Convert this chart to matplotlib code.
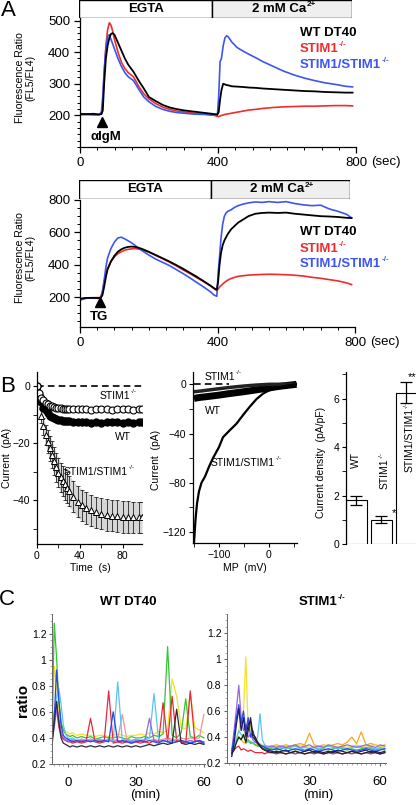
import matplotlib
matplotlib.use('Agg')
import matplotlib.pyplot as plt
from matplotlib.patches import Rectangle
from matplotlib.ticker import MultipleLocator

plt.rcParams['font.family'] = ['Liberation Sans', 'DejaVu Sans']
plt.rcParams['axes.linewidth'] = 0.9

# ---------------- data ----------------
# panel A (top): anti-IgM
tA1 = [0, 20, 40, 55, 62, 66, 70, 75, 80, 85, 90, 95, 100, 110, 120, 130, 140, 155, 170, 185,
       200, 220, 240, 260, 280, 300, 330, 360, 390, 398, 402, 406, 410, 415, 420, 425, 430, 440,
       455, 470, 490, 510, 530, 560, 590, 620, 650, 680, 710, 740, 770, 790]
wtA1 = [205, 204, 205, 203, 204, 215, 300, 380, 420, 445, 458, 460, 455, 430, 405, 380, 360, 338, 310, 285,
        258, 245, 233, 225, 220, 216, 212, 208, 204, 203, 210, 250, 280, 300, 298, 296, 295, 292,
        291, 290, 288, 287, 285, 283, 281, 279, 277, 276, 274, 273, 272, 272]
koA1 = [203, 203, 202, 202, 205, 240, 330, 420, 470, 493, 485, 465, 440, 400, 368, 348, 335, 322, 292, 268,
        252, 237, 226, 219, 214, 211, 207, 204, 200, 197, 196, 198, 200, 201, 203, 204, 205, 207,
        210, 213, 217, 219, 222, 225, 227, 228, 229, 229, 230, 231, 231, 230]
dkA1 = [202, 203, 202, 202, 210, 260, 340, 410, 450, 455, 440, 425, 410, 380, 355, 335, 322, 310, 283, 258,
        243, 228, 219, 213, 209, 207, 204, 203, 201, 200, 260, 370, 380, 420, 445, 452, 448, 432,
        415, 405, 393, 382, 370, 355, 340, 328, 318, 310, 303, 298, 292, 290]

# panel A (bottom): thapsigargin
tA2 = [0, 10, 20, 40, 55, 60, 65, 70, 75, 80, 90, 100, 110, 120, 130, 140, 150, 160, 170, 180,
       200, 220, 240, 260, 280, 300, 320, 340, 360, 380, 390, 398, 402, 406, 410, 415, 420, 425,
       430, 440, 450, 460, 475, 490, 510, 530, 550, 575, 600, 625, 650, 675, 700, 725, 750, 775, 790]
dkA2 = [180, 188, 193, 193, 192, 195, 230, 300, 380, 440, 500, 540, 565, 570, 560, 548, 535, 520, 502, 488,
        460, 435, 415, 395, 370, 345, 318, 290, 262, 232, 212, 205, 350, 450, 560, 650, 700, 720,
        730, 740, 755, 765, 775, 782, 788, 785, 790, 785, 790, 778, 770, 765, 768, 745, 730, 712, 690]
wtA2 = [190, 193, 195, 195, 194, 195, 210, 260, 320, 370, 420, 455, 480, 495, 505, 510, 512, 510, 505, 498,
        480, 460, 440, 420, 398, 375, 350, 325, 298, 270, 255, 245, 300, 400, 470, 520, 550, 570,
        590, 620, 640, 660, 680, 700, 715, 720, 722, 720, 722, 715, 710, 705, 700, 698, 695, 690, 688]
koA2 = [185, 190, 195, 196, 197, 200, 230, 290, 340, 375, 420, 448, 468, 480, 490, 495, 498, 500, 497, 492,
        478, 458, 438, 416, 393, 368, 345, 320, 295, 268, 252, 240, 250, 262, 270, 280, 290, 298,
        305, 315, 322, 328, 332, 336, 338, 340, 341, 340, 338, 335, 330, 322, 316, 308, 300, 288, 277]

# panel B left: current vs time
tB = [0, 2, 4, 6, 8, 10, 12, 14, 16, 18, 20, 22, 24, 26, 28, 30, 34, 38, 42, 46, 50, 55, 60, 65,
      70, 75, 80, 85, 90, 95, 98]
wtB = [0, -3, -5.5, -7.5, -8.5, -9.5, -10.3, -10.8, -11.2, -11.5, -11.8, -12, -12.1, -12.2, -12.3,
       -12.3, -12.5, -12.5, -12.6, -12.6, -12.8, -12.7, -12.8, -12.7, -12.6, -12.7, -12.8, -12.7,
       -12.8, -12.7, -12.7]
koB = [0, -2.5, -4, -5, -5.8, -6.3, -6.8, -7, -7.3, -7.5, -7.7, -7.8, -7.9, -8, -8, -8, -8.1, -8.1,
       -8, -8.1, -8.2, -8.1, -8, -8.1, -8.2, -8.1, -8, -8.1, -8.2, -8.1, -8.1]
dkB = [0, -4, -10.5, -14, -17, -19.5, -21.8, -24, -26.3, -28.5, -30.3, -32, -33.3, -34.5, -35.6,
       -36.8, -38.8, -40.5, -41.8, -42.8, -43.6, -44.3, -44.8, -45.2, -45.5, -45.6, -45.8, -45.9,
       -46, -46, -46]
dkB_err = [0, 1.5, 2.5, 3, 3.5, 4, 4.5, 4.8, 5, 5, 5.2, 5.2, 5.3, 5.3, 5.4, 5.4, 5.5, 5.5, 5.5,
           5.5, 5.5, 5.5, 5.5, 5.5, 5.5, 5.5, 5.6, 5.5, 5.5, 5.5, 5.5]

# panel B middle: I-V
mvIV = [-150, -147, -144, -140, -135, -128, -120, -112, -100, -92, -80, -65, -50, -38, -25, -12,
        0, 15, 30, 45, 55]
dkIV = [-129, -110, -97, -87, -80, -75, -67, -60, -51, -43, -38, -32, -24, -18, -12, -7.6, -5, -3,
        -1.5, -0.5, 0]
wtIV = [-11.5, -11.3, -11, -10.8, -10.5, -10.2, -9.8, -9.4, -8.8, -8.3, -7.6, -6.8, -6, -5.3, -4.5,
        -3.7, -3, -2, -1.2, -0.5, 0]
koIV = [-6, -5.9, -5.8, -5.6, -5.4, -5, -4.6, -4.2, -3.6, -3.2, -2.6, -2, -1.4, -1, -0.6, -0.3, 0,
        0, 0, 0, 0]

# panel B right: current density
bar_vals = [1.8, 1.0, 6.25]
bar_err = [0.18, 0.15, 0.45]

# panel C left: WT DT40 single-cell ratio traces
tC1 = [-7, -6, -5, -4, -3, -2, -1, 0, 1, 2, 4, 6, 8, 10, 12, 14, 16, 18, 20, 22, 24, 26, 28, 30,
       32, 34, 36, 38, 40, 42, 44, 46, 48, 50, 52, 54, 56, 58, 60]
c1_yellow = [0.50, 0.95, 0.80, 0.62, 0.50, 0.47, 0.45, 0.44, 0.43, 0.44, 0.42, 0.43, 0.42, 0.42, 0.41,
             0.42, 0.42, 0.41, 0.42, 0.43, 0.42, 0.41, 0.42, 0.42, 0.43, 0.42, 0.44, 0.43, 0.45, 0.44,
             0.46, 0.85, 0.72, 0.48, 0.47, 0.74, 0.48, 0.46, 0.44]
c1_green = [0.46, 1.28, 1.02, 0.68, 0.52, 0.46, 0.43, 0.42, 0.41, 0.42, 0.40, 0.41, 0.40, 0.41, 0.39,
            0.40, 0.41, 0.40, 0.40, 0.41, 0.40, 0.39, 0.41, 0.40, 0.40, 0.41, 0.40, 0.42, 0.41, 0.43,
            1.10, 0.42, 0.40, 0.44, 0.70, 0.41, 0.40, 0.42, 0.40]
c1_pink = [0.40, 0.52, 0.62, 0.48, 0.42, 0.40, 0.39, 0.39, 0.38, 0.39, 0.38, 0.39, 0.38, 0.39, 0.38,
           0.39, 0.38, 0.39, 0.38, 0.39, 0.58, 0.39, 0.38, 0.39, 0.38, 0.39, 0.38, 0.39, 0.38, 0.39,
           0.40, 0.39, 0.38, 0.40, 0.39, 0.40, 0.39, 0.40, 0.58]
c1_red = [0.38, 0.60, 0.68, 0.50, 0.42, 0.39, 0.38, 0.37, 0.37, 0.36, 0.37, 0.36, 0.37, 0.55, 0.37,
          0.36, 0.37, 0.76, 0.36, 0.37, 0.36, 0.37, 0.36, 0.37, 0.36, 0.37, 0.36, 0.38, 0.37, 0.67,
          0.37, 0.72, 0.38, 0.37, 0.36, 0.76, 0.38, 0.37, 0.36]
c1_lblue = [0.42, 0.58, 0.72, 0.78, 0.66, 0.50, 0.43, 0.40, 0.39, 0.40, 0.38, 0.39, 0.38, 0.39, 0.38,
            0.39, 0.38, 0.39, 0.38, 0.83, 0.38, 0.39, 0.38, 0.39, 0.38, 0.39, 0.40, 0.74, 0.39, 0.38,
            0.39, 0.38, 0.39, 0.38, 0.37, 0.38, 0.37, 0.38, 0.37]
c1_purple = [0.38, 0.48, 0.62, 0.55, 0.45, 0.40, 0.38, 0.38, 0.37, 0.38, 0.37, 0.38, 0.37, 0.38, 0.37,
             0.38, 0.37, 0.38, 0.37, 0.38, 0.37, 0.38, 0.37, 0.38, 0.37, 0.38, 0.55, 0.38, 0.37, 0.38,
             0.37, 0.38, 0.37, 0.38, 0.37, 0.38, 0.37, 0.38, 0.37]
c1_blue = [0.36, 0.55, 0.92, 0.70, 0.50, 0.42, 0.40, 0.39, 0.38, 0.37, 0.38, 0.37, 0.38, 0.37, 0.38,
           0.37, 0.38, 0.37, 0.60, 0.37, 0.38, 0.37, 0.36, 0.37, 0.38, 0.37, 0.38, 0.37, 0.36, 0.38,
           0.37, 0.36, 0.37, 0.38, 0.37, 0.36, 0.37, 0.38, 0.36]
c1_navy = [0.34, 0.52, 0.68, 0.52, 0.40, 0.36, 0.35, 0.34, 0.33, 0.34, 0.33, 0.34, 0.33, 0.34, 0.33,
           0.34, 0.33, 0.34, 0.33, 0.34, 0.33, 0.34, 0.33, 0.34, 0.33, 0.34, 0.35, 0.34, 0.35, 0.36,
           0.35, 0.36, 0.62, 0.36, 0.35, 0.36, 0.35, 0.36, 0.35]

# panel C right: STIM1-/- single-cell ratio traces
tC2 = [-3, -2, -1, 0, 1, 2, 3, 4, 5, 6, 7, 8, 9, 10, 11, 12, 14, 16, 18, 20, 22, 24, 26, 28, 30,
       32, 34, 36, 38, 40, 42, 44, 46, 48, 50, 52, 54, 56, 58, 60, 62]
c2_orange = [0.30, 0.33, 0.36, 0.40, 0.38, 0.36, 0.35, 0.37, 0.36, 0.35, 0.34, 0.34, 0.33, 0.33, 0.33,
             0.33, 0.33, 0.34, 0.33, 0.34, 0.33, 0.34, 0.35, 0.34, 0.43, 0.34, 0.33, 0.34, 0.33, 0.34,
             0.35, 0.34, 0.36, 0.40, 0.35, 0.44, 0.34, 0.35, 0.34, 0.33, 0.34]
c2_yellow = [0.30, 0.35, 0.40, 0.45, 0.55, 0.60, 1.02, 0.45, 0.50, 0.38, 0.40, 0.36, 0.35, 0.34, 0.33,
             0.33, 0.32, 0.33, 0.32, 0.33, 0.32, 0.33, 0.34, 0.33, 0.32, 0.33, 0.32, 0.33, 0.34, 0.33,
             0.32, 0.33, 0.32, 0.33, 0.34, 0.33, 0.32, 0.33, 0.34, 0.33, 0.32]
c2_red = [0.28, 0.30, 0.32, 0.33, 0.30, 0.31, 0.30, 0.29, 0.30, 0.29, 0.28, 0.28, 0.28, 0.28, 0.27,
          0.28, 0.28, 0.27, 0.28, 0.27, 0.28, 0.27, 0.28, 0.27, 0.28, 0.27, 0.28, 0.27, 0.28, 0.27,
          0.28, 0.27, 0.28, 0.27, 0.28, 0.27, 0.28, 0.27, 0.28, 0.27, 0.28]
c2_green = [0.29, 0.32, 0.36, 0.40, 0.38, 0.42, 0.36, 0.38, 0.35, 0.36, 0.34, 0.33, 0.33, 0.32, 0.31,
            0.31, 0.31, 0.30, 0.31, 0.32, 0.31, 0.30, 0.31, 0.30, 0.31, 0.32, 0.30, 0.31, 0.30, 0.31,
            0.32, 0.31, 0.30, 0.31, 0.30, 0.31, 0.32, 0.31, 0.30, 0.31, 0.30]
c2_lblue = [0.30, 0.33, 0.38, 0.45, 0.42, 0.40, 0.38, 0.36, 0.37, 0.35, 0.36, 0.40, 0.58, 0.38, 0.34,
            0.33, 0.32, 0.31, 0.32, 0.31, 0.32, 0.33, 0.31, 0.32, 0.31, 0.32, 0.31, 0.32, 0.33, 0.32,
            0.31, 0.32, 0.31, 0.32, 0.33, 0.32, 0.31, 0.32, 0.31, 0.32, 0.31]
c2_purple = [0.30, 0.45, 0.62, 0.80, 0.55, 0.45, 0.50, 0.40, 0.42, 0.38, 0.36, 0.35, 0.34, 0.33, 0.33,
             0.32, 0.33, 0.32, 0.33, 0.32, 0.33, 0.34, 0.32, 0.33, 0.34, 0.32, 0.33, 0.32, 0.34, 0.33,
             0.32, 0.33, 0.34, 0.33, 0.32, 0.33, 0.34, 0.33, 0.32, 0.34, 0.33]
c2_blue = [0.28, 0.40, 0.55, 0.65, 0.50, 0.60, 0.45, 0.55, 0.40, 0.45, 0.38, 0.36, 0.34, 0.33, 0.32,
           0.31, 0.30, 0.31, 0.30, 0.29, 0.30, 0.31, 0.30, 0.29, 0.31, 0.30, 0.29, 0.30, 0.31, 0.30,
           0.29, 0.30, 0.31, 0.30, 0.29, 0.30, 0.31, 0.30, 0.29, 0.30, 0.31]
c2_navy = [0.25, 0.35, 0.50, 0.62, 0.45, 0.55, 0.40, 0.50, 0.52, 0.40, 0.38, 0.35, 0.33, 0.31, 0.30,
           0.30, 0.29, 0.28, 0.29, 0.30, 0.28, 0.29, 0.28, 0.29, 0.30, 0.28, 0.29, 0.28, 0.29, 0.28,
           0.30, 0.29, 0.28, 0.29, 0.28, 0.29, 0.30, 0.28, 0.29, 0.28, 0.29]
c2_black = [0.27, 0.30, 0.36, 0.40, 0.38, 0.42, 0.36, 0.45, 0.55, 0.42, 0.40, 0.36, 0.33, 0.31, 0.30,
            0.29, 0.28, 0.29, 0.28, 0.27, 0.28, 0.29, 0.28, 0.27, 0.28, 0.29, 0.28, 0.27, 0.28, 0.29,
            0.28, 0.27, 0.28, 0.29, 0.28, 0.27, 0.28, 0.29, 0.28, 0.27, 0.28]

RED = '#f02c2c'
BLUE = '#3d55f2'

# ---------------- figure ----------------
W, H = 416, 805
fig = plt.figure(figsize=(W / 100, H / 100), dpi=100)


def box(x0, y0, x1, y1):
    return [x0 / W, 1 - y1 / H, (x1 - x0) / W, (y1 - y0) / H]


def clean(ax):
    ax.spines['top'].set_visible(False)
    ax.spines['right'].set_visible(False)
    ax.tick_params(which='both', direction='out')


def header(x0, y0, x1, y1, xmid):
    hx = fig.add_axes(box(x0, y0, x1, y1))
    hx.set_xlim(x0, x1)
    hx.set_ylim(0, 1)
    hx.axis('off')
    hx.add_patch(Rectangle((x0, 0), xmid - x0, 1, facecolor='white', edgecolor='k', lw=1.0))
    hx.add_patch(Rectangle((xmid, 0), x1 - xmid, 1, facecolor='#efefef', edgecolor='k', lw=1.0))


def panel_a(ax, t, wt, ko, dk, ylim, yticks, yminor):
    ax.plot(t, ko, color=RED, lw=1.2)
    ax.plot(t, dk, color=BLUE, lw=1.2)
    ax.plot(t, wt, color='k', lw=1.3)
    ax.set_xlim(0, 800)
    ax.set_ylim(*ylim)
    clean(ax)
    ax.set_xticks([0, 400, 800])
    ax.xaxis.set_minor_locator(MultipleLocator(50))
    ax.set_yticks(yticks)
    ax.yaxis.set_minor_locator(MultipleLocator(yminor))
    ax.tick_params(which='major', length=4, width=0.9, labelsize=9.5, pad=3)
    ax.tick_params(which='minor', length=2, width=0.7)


def panel_c(ax, t, traces, xlim):
    for ys, c in traces:
        ax.plot(t, ys, color=c, lw=0.9)
    ax.set_xlim(*xlim)
    ax.set_ylim(0.2, 1.35)
    clean(ax)
    for s in ['left', 'bottom']:
        ax.spines[s].set_color('#666666')
        ax.spines[s].set_linewidth(0.7)
    ax.set_xticks([0, 30, 60])
    ax.xaxis.set_minor_locator(MultipleLocator(2))
    ax.set_yticks([0.2, 0.4, 0.6, 0.8, 1.0, 1.2])
    ax.set_yticklabels(['0.2', '0.4', '0.6', '0.8', '1', '1.2'])
    ax.yaxis.set_minor_locator(MultipleLocator(0.05))
    ax.tick_params(axis='x', which='major', length=2, labelsize=9.5, pad=7, color='#666666')
    ax.tick_params(axis='y', which='major', length=2, labelsize=7.5, pad=2, color='#666666')
    ax.tick_params(which='minor', length=1.5, width=0.5, color='#888888')


# ---- A top ----
header(79, 0, 352, 18, 212)
axA1 = fig.add_axes(box(80, 18, 356, 147))
panel_a(axA1, tA1, wtA1, koA1, dkA1, (100, 508), [200, 300, 400, 500], 20)
axA1.plot([64], [178], marker='^', color='k', ms=7, clip_on=False)

# ---- A bottom ----
header(79, 180, 350, 199, 211)
axA2 = fig.add_axes(box(80, 200, 355, 327))
panel_a(axA2, tA2, wtA2, koA2, dkA2, (15, 800), [200, 400, 600, 800], 50)
axA2.plot([58], [172], marker='^', color='k', ms=7, clip_on=False)

# ---- B left ----
axB1 = fig.add_axes(box(37, 372, 142, 544))
axB1.axhline(0, color='k', ls='--', lw=1.2, dashes=(4, 2.5))
lo = [v - e for v, e in zip(dkB, dkB_err)]
hi = [v + e for v, e in zip(dkB, dkB_err)]
axB1.fill_between(tB, lo, hi, color='#d6d6d6', lw=0)
axB1.errorbar(tB, dkB, yerr=dkB_err, fmt='none', ecolor='k', elinewidth=0.5, capsize=1.5, capthick=0.5)
axB1.plot(tB, dkB, ls='none', marker='^', ms=4.5, mfc='white', mec='k', mew=0.7)
axB1.plot(tB, wtB, ls='none', marker='o', ms=5, mfc='k', mec='k')
axB1.plot(tB, koB, ls='none', marker='o', ms=5, mfc='white', mec='k', mew=0.8)
axB1.set_xlim(0, 98)
axB1.set_ylim(-55.4, 5)
clean(axB1)
axB1.set_xticks([0, 40, 80])
axB1.xaxis.set_minor_locator(MultipleLocator(20))
axB1.set_yticks([0, -20, -40])
axB1.yaxis.set_minor_locator(MultipleLocator(10))
axB1.tick_params(which='major', length=3, labelsize=7.5, pad=2)
axB1.tick_params(which='minor', length=3)

# ---- B middle ----
axB2 = fig.add_axes(box(193, 372, 297, 543))
axB2.plot([-150, -80], [0, 0], color='k', ls='--', lw=1.2, dashes=(4, 2.5))
axB2.plot(mvIV, wtIV, color='k', lw=5, solid_capstyle='butt')
axB2.plot(mvIV, koIV, color='#222222', lw=2.5)
axB2.plot(mvIV, dkIV, color='k', lw=1.6)
axB2.set_xlim(-152, 56)
axB2.set_ylim(-129, 10)
clean(axB2)
axB2.set_xticks([-100, 0])
axB2.xaxis.set_minor_locator(MultipleLocator(50))
axB2.set_yticks([0, -40, -80, -120])
axB2.yaxis.set_minor_locator(MultipleLocator(20))
axB2.tick_params(which='major', length=3, labelsize=7.5, pad=2)
axB2.tick_params(which='minor', length=3)

# ---- B right ----
axB3 = fig.add_axes(box(346, 372, 416, 544))
axB3.bar([0, 1, 2], bar_vals, width=0.84, color='white', edgecolor='k', lw=0.8)
axB3.errorbar([0, 1, 2], bar_vals, yerr=bar_err, fmt='none', ecolor='k', elinewidth=0.9,
              capsize=4, capthick=0.9)
axB3.set_xlim(-0.4, 2.4)
axB3.set_ylim(0, 7.1)
clean(axB3)
axB3.spines['bottom'].set_visible(False)
axB3.set_xticks([])
axB3.set_yticks([0, 2, 4, 6])
axB3.yaxis.set_minor_locator(MultipleLocator(1))
axB3.tick_params(which='major', length=3, labelsize=7.5, pad=2)
axB3.tick_params(which='minor', length=3)

# ---- C ----
axC1 = fig.add_axes(box(52, 614, 205, 764))
panel_c(axC1, tC1, [(c1_yellow, '#f2e22a'), (c1_green, '#34c434'), (c1_pink, '#f5909e'),
                    (c1_red, '#e8283a'), (c1_lblue, '#5cc4f5'), (c1_purple, '#9966dd'),
                    (c1_blue, '#2846e6'), (c1_navy, '#2b2b3b')], (-7, 60.5))
axC2 = fig.add_axes(box(227, 614, 386, 763))
panel_c(axC2, tC2, [(c2_orange, '#f5a623'), (c2_yellow, '#f2e22a'), (c2_red, '#e8283a'),
                    (c2_green, '#34c434'), (c2_lblue, '#5cc4f5'), (c2_purple, '#9966dd'),
                    (c2_blue, '#2846e6'), (c2_navy, '#1c1c66'), (c2_black, '#222222')], (-5, 62.5))

# ---------------- text layer ----------------
ov = fig.add_axes([0, 0, 1, 1])
ov.set_xlim(0, W)
ov.set_ylim(H, 0)
ov.axis('off')


def txt(x, y, s, size=7.5, ha='center', rot=0, **kw):
    return ov.text(x, y, s, fontsize=size, ha=ha, va='center', rotation=rot, **kw)


def sup_txt(x, y, base, sup, size=7.5, ha='left', rot=0, **kw):
    # base text with a small raised suffix right after it
    t = txt(x, y, base, size=size, ha=ha, rot=rot, **kw)
    if rot == 0:
        ov.annotate(sup, xy=(1, 1), xycoords=t, xytext=(0.3, 1.2), textcoords='offset points',
                    ha='left', va='top', fontsize=size * 0.62, **kw)
    else:
        ov.annotate(sup, xy=(0, 1), xycoords=t, xytext=(-1.2, 0.3), textcoords='offset points',
                    ha='left', va='bottom', rotation=rot, fontsize=size * 0.62, **kw)
    return t


B = dict(fontweight='bold')

# headers
for yc, c1, c2 in [(9, 146, 279), (189.5, 145, 277)]:
    txt(c1, yc, 'EGTA', size=9.5, **B)
    sup_txt(c2, yc, '2 mM Ca', '2+', size=9.5, ha='center', **B)

# panel A
txt(8, 10, 'A', size=16)
txt(106, 137, 'αIgM', size=9.5, **B)
txt(371, 162, '(sec)', size=9.5, ha='left')
txt(25, 78, 'Fluorescence Ratio\n(FL5/FL4)', size=7.6, rot=90, linespacing=1.0)
txt(300, 33, 'WT DT40', size=9.5, ha='left', **B)
sup_txt(300, 49, 'STIM1', '-/-', size=9.5, color=RED, **B)
sup_txt(300, 65, 'STIM1/STIM1', '-/-', size=9.5, color=BLUE, **B)

txt(99, 317, 'TG', size=9.5, **B)
txt(370, 342, '(sec)', size=9.5, ha='left')
txt(25, 258, 'Fluorescence Ratio\n(FL5/FL4)', size=7.6, rot=90, linespacing=1.0)
txt(300, 232, 'WT DT40', size=9.5, ha='left', **B)
sup_txt(300, 249, 'STIM1', '-/-', size=9.5, color=RED, **B)
sup_txt(300, 264, 'STIM1/STIM1', '-/-', size=9.5, color=BLUE, **B)

# panel B
txt(8, 386, 'B', size=16)
sup_txt(100, 396, 'STIM1', '-/-')
txt(123, 437, 'WT')
sup_txt(64, 472, 'STIM1/STIM1', '-/-')
txt(7, 458, 'Current  (pA)', rot=90)
txt(90, 568, 'Time  (s)')

sup_txt(205, 377, 'STIM1', '-/-')
txt(205, 411, 'WT', ha='left')
sup_txt(211, 463, 'STIM1/STIM1', '-/-')
txt(156, 460, 'Current  (pA)', rot=90)
txt(245, 568, 'MP  (mV)')

txt(356, 460, 'WT', rot=90)
sup_txt(380, 474, 'STIM1', '-/-', rot=90)
sup_txt(405, 440, 'STIM1/STIM1', '-/-', rot=90)
txt(394, 513, '*', size=8)
txt(412, 377, '**', size=8)
txt(321, 462, 'Current density  (pA/pF)', rot=90)

# panel C
txt(7, 599, 'C', size=16)
txt(128, 602, 'WT DT40', size=9.5, **B)
sup_txt(318, 602, 'STIM1', '-/-', size=9.5, ha='center', **B)
txt(23, 700, 'ratio', size=11, rot=90, **B)
txt(145, 795, '(min)', size=9.5)
txt(318, 795, '(min)', size=9.5)

fig.savefig('out.png', dpi=100)
